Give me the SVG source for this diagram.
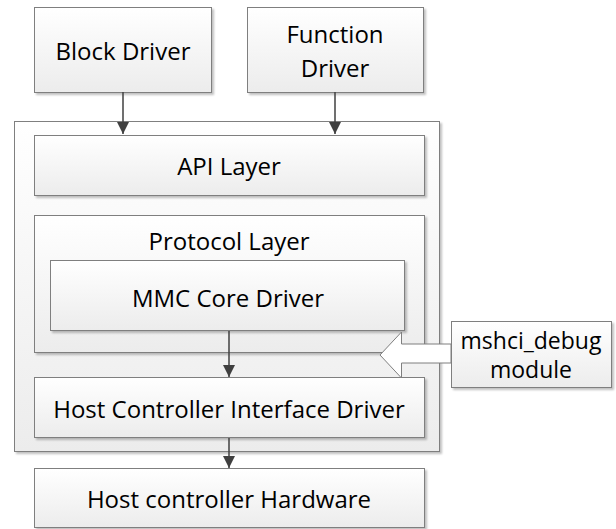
<svg xmlns="http://www.w3.org/2000/svg" width="616" height="529" viewBox="0 0 616 529">
<defs>
<linearGradient id="g" x1="0" y1="0" x2="0" y2="1">
<stop offset="0" stop-color="#ffffff"/>
<stop offset="1" stop-color="#ececec"/>
</linearGradient>
<marker id="ah" viewBox="0 0 12 12" refX="12" refY="6" markerWidth="12" markerHeight="12" markerUnits="userSpaceOnUse" orient="auto">
<path d="M0,0 L12,6 L0,12 z" fill="#404040"/>
</marker>
<filter id="sh" x="-5%" y="-5%" width="115%" height="120%">
<feOffset in="SourceAlpha" dx="2" dy="2" result="o"/>
<feGaussianBlur in="o" stdDeviation="1" result="b"/>
<feComponentTransfer in="b" result="c"><feFuncA type="linear" slope="0.25"/></feComponentTransfer>
<feMerge><feMergeNode in="c"/><feMergeNode in="SourceGraphic"/></feMerge>
</filter>
</defs>
<style>
.box{fill:url(#g);stroke:#7f7f7f;stroke-width:1;filter:url(#sh)}
.t{font-family:"Open Sans","Liberation Sans",sans-serif;font-size:24px;fill:#000;text-anchor:middle;dominant-baseline:central}
.s{font-size:23px}
.c{stroke:#404040;stroke-width:1.5;fill:none;marker-end:url(#ah)}
</style>
<g id="host-stack">
<rect class="box" x="14.5" y="121.5" width="425" height="330"/>
</g>
<g id="block-driver">
<rect class="box" x="34.5" y="7.5" width="177" height="85"/>
<text class="t" x="123" y="50">Block Driver</text>
</g>
<g id="function-driver">
<rect class="box" x="247.5" y="7.5" width="176" height="85"/>
<text class="t" x="335" y="33">Function</text>
<text class="t" x="335" y="67">Driver</text>
</g>
<g id="api-layer">
<rect class="box" x="34.5" y="135.5" width="390" height="60"/>
<text class="t" x="229" y="165">API Layer</text>
</g>
<g id="protocol-layer">
<rect class="box" x="34.5" y="215.5" width="390" height="137"/>
<text class="t" x="229" y="240">Protocol Layer</text>
</g>
<g id="mmc-core">
<rect class="box" x="50.5" y="260.5" width="354" height="70"/>
<text class="t" x="228" y="297">MMC Core Driver</text>
</g>
<g id="hci-driver">
<rect class="box" x="34.5" y="377.5" width="390" height="60"/>
<text class="t" x="229" y="408">Host Controller Interface Driver</text>
</g>
<g id="host-hw">
<rect class="box" x="34.5" y="468.5" width="390" height="59"/>
<text class="t" x="229" y="498">Host controller Hardware</text>
</g>
<g id="mshci-debug">
<rect class="box" x="451.5" y="321.5" width="160" height="66"/>
<text class="t s" x="531" y="340">mshci_debug</text>
<text class="t s" x="531" y="369">module</text>
</g>
<g id="connectors">
<line class="c" x1="123" y1="92" x2="123" y2="134"/>
<line class="c" x1="335" y1="92" x2="335" y2="134"/>
<line class="c" x1="229" y1="331" x2="229" y2="377"/>
<line class="c" x1="229" y1="438" x2="229" y2="468"/>
<polygon points="451,344 401.5,344 401.5,332 380,355 401.5,378 401.5,363 451,363" fill="#ffffff" stroke="#7f7f7f" stroke-width="1"/>
</g>
</svg>
